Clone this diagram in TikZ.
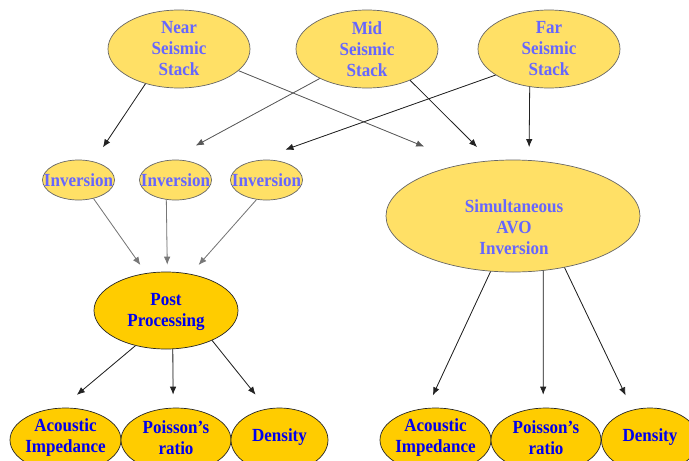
\documentclass[tikz,border=0pt]{standalone}
\usepackage{fontspec}
\setmainfont{Liberation Serif}
\newfontfamily\diagfont[FakeStretch=0.92]{Liberation Serif}
\usetikzlibrary{arrows.meta,shapes.geometric}
\definecolor{lightgold}{HTML}{FFE066}
\definecolor{gold}{HTML}{FFCC00}
\definecolor{lightblue}{HTML}{6666FF}
\definecolor{deepblue}{HTML}{0000EE}
\definecolor{arrgrey}{HTML}{777777}
\definecolor{arrdark}{HTML}{222222}
\begin{document}
\begin{tikzpicture}[x=1pt,y=-1pt,
  ell/.style={ellipse, inner sep=0pt, line width=0.7pt},
  paleell/.style={ell, draw=black!60, fill=lightgold},
  goldell/.style={ell, draw=black!85, fill=gold},
  stackell/.style={paleell, minimum width=142pt, minimum height=78pt},
  invell/.style={paleell, minimum width=72pt, minimum height=40pt},
  outell/.style={goldell, minimum height=64pt},
  txt/.style={font=\diagfont\fontsize{18.5}{21}\selectfont\bfseries, align=center, inner sep=0pt},
  paletxt/.style={txt, text=lightblue},
  goldtxt/.style={txt, text=deepblue},
  arr/.style={-{Latex[length=8pt,width=6.5pt]}, line width=0.8pt},
  darkarr/.style={arr, draw=arrdark, fill=arrdark},
  midarr/.style={arr, draw=black!65, fill=black!65},
  greyarr/.style={arr, draw=arrgrey, fill=arrgrey}
]
\useasboundingbox (0,0) rectangle (689,461);
\clip (0,0) rectangle (689,461);
\fill[white] (0,0) rectangle (689,461);

% top stacks
\node[stackell] (near) at (179,49) {};
\node[paletxt] (nearT) at (179,49) {Near\\Seismic\\Stack};
\node[stackell] (mid) at (367,49) {};
\node[paletxt] (midT) at (367,49) {Mid\\Seismic\\Stack};
\node[stackell] (far) at (549,49) {};
\node[paletxt] (farT) at (549,49) {Far\\Seismic\\Stack};

% inversions
\node[invell] (inv1) at (78.5,180) {};
\node[paletxt] (inv1T) at (78.5,180) {Inversion};
\node[invell] (inv2) at (175.5,180) {};
\node[paletxt] (inv2T) at (175.5,180) {Inversion};
\node[invell] (inv3) at (266.5,180) {};
\node[paletxt] (inv3T) at (266.5,180) {Inversion};

\node[paleell, minimum width=254pt, minimum height=112pt] (sim) at (513,216) {};
\node[paletxt] (simT) at (514,227) {Simultaneous\\AVO\\Inversion};

% post processing
\node[goldell, minimum width=144pt, minimum height=77pt] (post) at (166,310.5) {};
\node[goldtxt] (postT) at (166,312) {Post\\Processing};

% outputs left
\node[outell, minimum width=111pt] (acl) at (65.5,440) {};
\node[goldtxt] (aclT) at (65.5,437.5) {Acoustic\\Impedance};
\node[outell, minimum width=110pt] (pol) at (176,440) {};
\node[goldtxt] (polT) at (176,437.5) {Poisson’s\\ratio};
\node[outell, minimum width=97pt] (del) at (279.5,440) {};
\node[goldtxt] (delT) at (279.5,437) {Density};

% outputs right
\node[outell, minimum width=111pt] (acr) at (435.5,440) {};
\node[goldtxt] (acrT) at (435.5,437.5) {Acoustic\\Impedance};
\node[outell, minimum width=110pt] (por) at (546,440) {};
\node[goldtxt] (porT) at (546,437.5) {Poisson’s\\ratio};
\node[outell, minimum width=97pt] (der) at (650,440) {};
\node[goldtxt] (derT) at (650,437) {Density};

% arrows from stacks
\draw[darkarr, shorten >=17pt] (near.226) -- (inv1.51);
\draw[midarr, shorten >=45pt] (near.340) -- (sim.132);
\draw[midarr, shorten >=30pt] (mid.212) -- (inv2.107);
\draw[darkarr, shorten >=19pt] (mid.324) -- (sim.112);
\draw[darkarr, shorten >=47pt] (far.206) -- (inv3.150);
\draw[darkarr, shorten >=13pt] (far.243) -- (sim.74);

% inversions to post processing
\draw[greyarr, shorten >=10pt] (inv1.309) -- (post.118);
\draw[greyarr, shorten >=7pt] (inv2.245) -- (post.88);
\draw[greyarr, shorten >=12pt] (inv3.243) -- (post.56);

% post processing to outputs
\draw[darkarr, shorten >=20pt] (post.229) -- (acl.97);
\draw[darkarr, shorten >=13pt] (post.280) -- (pol.95);
\draw[darkarr, shorten >=18pt] (post.327) -- (del.112);

% simultaneous to outputs
\draw[darkarr, shorten >=14pt] (sim.248) -- (acr.105);
\draw[darkarr, shorten >=13pt] (sim.299) -- (por.95);
\draw[darkarr, shorten >=16pt] (sim.315) -- (der.120);
\end{tikzpicture}
\end{document}
